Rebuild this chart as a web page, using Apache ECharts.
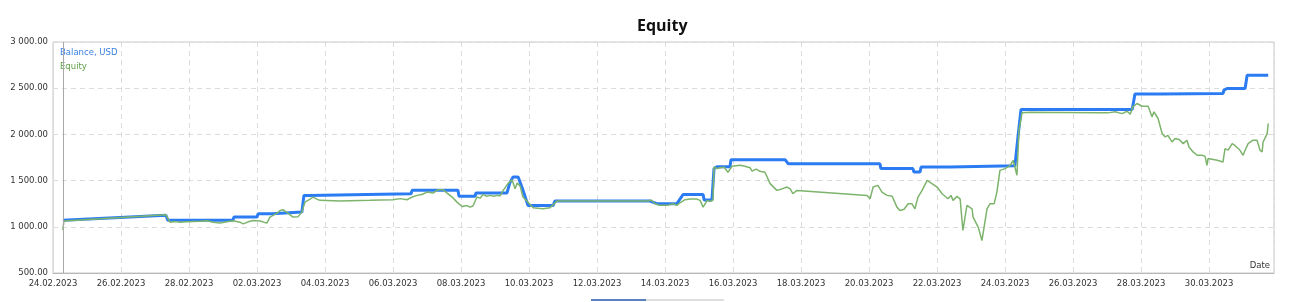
<!DOCTYPE html>
<html>
<head>
<meta charset="utf-8">
<title>Equity</title>
<script src="https://cdn.jsdelivr.net/npm/echarts@6.0.0/dist/echarts.min.js"></script>
<style>
    html, body { margin: 0; padding: 0; background: #fff; }
    #equity_chart { width: 1290px; height: 302px; }
</style>
</head>
<body>
<div id="equity_chart"></div>
<script>
    // days counted from 24.02.2023 00:00
    var startDate = Date.UTC(2023, 1, 24);
    var firstDealDay = 0.29;
    var lastDay = 35.91;

    var balanceDays = [0.29, 3.32, 3.38, 5.29, 5.32, 6.00, 6.03, 6.44, 6.47, 7.32, 7.38, 7.53, 7.56,
        10.53, 10.56, 11.91, 11.94, 12.41, 12.44, 13.35, 13.44, 13.53, 13.68, 13.74, 13.82, 13.97,
        14.71, 14.76, 17.56, 17.76, 18.35, 18.53, 19.12, 19.15, 19.38, 19.44, 19.53, 19.91, 19.94,
        21.53, 21.62, 24.32, 24.35, 25.29, 25.32, 25.50, 25.53, 26.38, 26.41, 28.29, 28.38, 28.47,
        31.74, 31.82, 32.56, 32.59, 34.41, 34.44, 34.53, 35.06, 35.12, 35.74];
    var balanceValues = [1070, 1125, 1070, 1070, 1105, 1105, 1140, 1140, 1160, 1160, 1340, 1340, 1357,
        1357, 1395, 1395, 1330, 1330, 1365, 1365, 1480, 1540, 1540, 1480, 1400, 1230,
        1230, 1278, 1278, 1250, 1250, 1350, 1350, 1290, 1290, 1630, 1650, 1650, 1727,
        1727, 1683, 1683, 1630, 1630, 1593, 1593, 1647, 1647, 1662, 1662, 1973, 2270,
        2270, 2436, 2436, 2443, 2443, 2480, 2497, 2497, 2640, 2640];

    var equityDays = [0.29, 0.32, 3.32, 3.44, 3.59, 3.74, 3.94, 4.32, 4.53, 4.71, 4.91, 5.12, 5.29,
        5.50, 5.59, 5.79, 5.88, 6.09, 6.29, 6.38, 6.59, 6.68, 6.76, 6.91, 7.06, 7.21, 7.32, 7.41,
        7.56, 7.65, 7.76, 7.85, 8.44, 9.32, 10.00, 10.21, 10.41, 10.56, 10.71, 10.85, 11.00, 11.18,
        11.32, 11.47, 11.59, 11.74, 11.88, 12.03, 12.18, 12.26, 12.35, 12.47, 12.56, 12.65, 12.76,
        12.85, 12.97, 13.06, 13.15, 13.24, 13.38, 13.50, 13.59, 13.65, 13.74, 13.82, 13.97, 14.12,
        14.41, 14.62, 14.76, 14.82, 17.50, 17.59, 17.71, 17.85, 18.06, 18.24, 18.35, 18.44, 18.59,
        18.74, 18.94, 19.03, 19.12, 19.24, 19.32, 19.41, 19.44, 19.53, 19.62, 19.74, 19.85, 19.97,
        20.21, 20.35, 20.50, 20.56, 20.68, 20.79, 20.94, 21.09, 21.29, 21.44, 21.59, 21.68, 21.76,
        21.88, 23.94, 24.03, 24.12, 24.26, 24.38, 24.53, 24.68, 24.82, 24.91, 25.03, 25.15, 25.26,
        25.35, 25.44, 25.56, 25.71, 25.85, 26.00, 26.15, 26.32, 26.41, 26.47, 26.59, 26.68, 26.76,
        26.88, 27.03, 27.06, 27.21, 27.32, 27.47, 27.56, 27.68, 27.76, 27.85, 28.00, 28.15, 28.24,
        28.29, 28.35, 28.41, 28.50, 28.74, 29.62, 30.79, 31.03, 31.24, 31.44, 31.59, 31.68, 31.76,
        31.88, 32.03, 32.21, 32.32, 32.38, 32.50, 32.62, 32.71, 32.79, 32.91, 33.00, 33.12, 33.24,
        33.35, 33.41, 33.53, 33.65, 33.79, 33.88, 33.94, 33.97, 34.24, 34.41, 34.47, 34.56, 34.68,
        34.76, 34.91, 35.00, 35.06, 35.15, 35.29, 35.41, 35.50, 35.56, 35.59, 35.71, 35.74];
    var equityValues = [965, 1062, 1130, 1050, 1058, 1050, 1055, 1060, 1065, 1050, 1040, 1055, 1065,
        1050, 1032, 1060, 1068, 1062, 1040, 1105, 1148, 1177, 1185, 1148, 1105, 1110, 1160, 1267,
        1300, 1322, 1300, 1286, 1280, 1286, 1293, 1305, 1293, 1322, 1340, 1350, 1376, 1365,
        1402, 1402, 1365, 1322, 1267, 1220, 1230, 1213, 1225, 1322, 1310, 1351, 1330,
        1340, 1330, 1340, 1336, 1394, 1467, 1510, 1412, 1473, 1440, 1322, 1267, 1206,
        1195, 1206, 1256, 1278, 1278, 1290, 1250, 1232, 1232, 1250, 1232, 1260, 1293,
        1300, 1300, 1286, 1213, 1286, 1275, 1290, 1647, 1630, 1640, 1645, 1590, 1655,
        1665, 1655, 1640, 1603, 1625, 1600, 1590, 1467, 1394, 1410, 1430, 1410, 1358,
        1394, 1340, 1304, 1430, 1448, 1376, 1340, 1330, 1213, 1177, 1190, 1250, 1250,
        1195, 1322, 1394, 1502, 1467, 1430, 1358, 1304, 1340, 1286, 1329, 1300, 960,
        1232, 1195, 1105, 996, 851, 1195, 1250, 1250, 1376, 1611, 1630, 1665, 1720,
        1647, 1557, 2045, 2233, 2240, 2238, 2233, 2233, 2245, 2225, 2250, 2219, 2298,
        2334, 2305, 2305, 2190, 2244, 2172, 2009, 1973, 1990, 1918, 1955, 1945, 1900,
        1937, 1864, 1810, 1774, 1774, 1765, 1665, 1738, 1720, 1702, 1846, 1830, 1900,
        1880, 1828, 1774, 1828, 1900, 1937, 1937, 1828, 1810, 1918, 2009, 2118];

    var yMin = 500, yMax = 3000, yStep = 500;

    function pairs(xs, ys) {
        var out = [];
        for (var i = 0; i < xs.length; i++) {
            out.push([xs[i], ys[i]]);
        }
        return out;
    }

    function pad(n) {
        return n < 10 ? '0' + n : '' + n;
    }

    function dayLabel(v) {
        var d = new Date(startDate + Math.floor(v + 1e-6) * 86400000);
        return pad(d.getUTCDate()) + '.' + pad(d.getUTCMonth() + 1) + '.' + d.getUTCFullYear();
    }

    function moneyLabel(v) {
        var s = v.toFixed(2).split('.');
        return s[0].replace(/\B(?=(\d{3})+(?!\d))/g, ' ') + '.' + s[1];
    }

    var labelFont = 'DejaVu Sans';
    var chartDom = document.getElementById('equity_chart');
    var myChart = echarts.init(chartDom);

    var option = {
        animation: false,
        backgroundColor: '#fff',
        title: {
            text: 'Equity',
            left: 632,
            top: 13,
            textStyle: {
                fontFamily: 'Open Sans',
                fontWeight: 'bold',
                fontSize: 16,
                color: '#111'
            }
        },
        legend: {
            orient: 'vertical',
            left: 54,
            top: 45,
            padding: [3, 0],
            itemWidth: 0,
            itemHeight: 0,
            itemGap: 5,
            selectedMode: false,
            textStyle: { fontFamily: labelFont, fontSize: 8.5 },
            data: [
                { name: 'Balance, USD', textStyle: { color: '#3a7fe0' } },
                { name: 'Equity', textStyle: { color: '#5f9e47' } }
            ]
        },
        grid: {
            left: 53,
            right: 16,
            top: 42,
            bottom: 29,
            show: true,
            borderColor: '#c8c8c8',
            borderWidth: 1
        },
        xAxis: {
            type: 'value',
            min: 0,
            max: lastDay,
            interval: 2,
            name: 'Date',
            nameLocation: 'end',
            nameGap: -4,
            nameTextStyle: {
                fontFamily: labelFont,
                fontSize: 8.5,
                color: '#333',
                align: 'right',
                verticalAlign: 'bottom',
                padding: [0, 0, 3, 0]
            },
            axisLine: { lineStyle: { color: '#b8b8b8' } },
            axisTick: { show: false },
            axisLabel: {
                showMaxLabel: false,
                margin: 6,
                fontFamily: labelFont,
                fontSize: 8.5,
                color: '#333',
                formatter: dayLabel
            },
            splitLine: {
                show: true,
                lineStyle: { color: '#dcdcdc', type: [5, 4] }
            }
        },
        yAxis: {
            type: 'value',
            min: yMin,
            max: yMax,
            interval: yStep,
            axisLine: { show: true, lineStyle: { color: '#dcdcdc' } },
            axisTick: { show: false },
            axisLabel: {
                margin: 5,
                fontFamily: labelFont,
                fontSize: 8.5,
                color: '#333',
                formatter: moneyLabel
            },
            splitLine: {
                lineStyle: { color: '#dcdcdc', type: [5, 4] }
            }
        },
        series: [
            {
                name: 'Balance, USD',
                type: 'line',
                showSymbol: false,
                color: '#2b7cf3',
                lineStyle: { width: 3, color: '#2b7cf3' },
                data: pairs(balanceDays, balanceValues),
                markLine: {
                    silent: true,
                    symbol: 'none',
                    label: { show: false },
                    lineStyle: { color: '#a8a8a8', width: 1, type: 'solid' },
                    data: [{ xAxis: firstDealDay }]
                }
            },
            {
                name: 'Equity',
                type: 'line',
                showSymbol: false,
                color: '#7db46c',
                lineStyle: { width: 1.5, color: '#7db46c' },
                data: pairs(equityDays, equityValues)
            }
        ],
        // the little scroll indicator under the chart
        graphic: [
            { type: 'rect', shape: { x: 591, y: 299, width: 55, height: 2 }, style: { fill: '#5b7fbf' } },
            { type: 'rect', shape: { x: 646, y: 299, width: 78, height: 2 }, style: { fill: '#dedede' } }
        ]
    };

    myChart.setOption(option);
</script>
</body>
</html>
